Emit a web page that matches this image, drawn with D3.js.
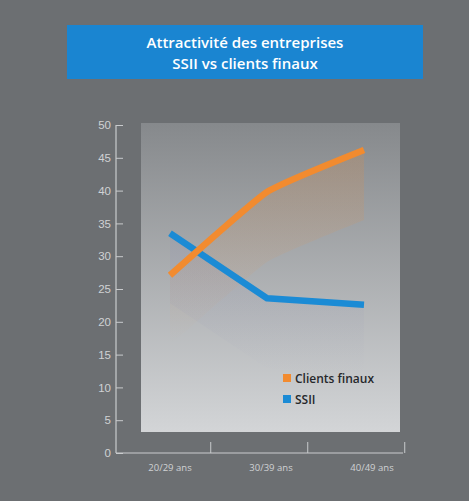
<!DOCTYPE html>
<html>
<head>
<meta charset="utf-8">
<script src="https://cdn.jsdelivr.net/npm/d3@7"></script>
<style>
  body { margin: 0; background: #6c6f72; }
  svg { display: block; font-family: "Open Sans", "Noto Sans", sans-serif; }
</style>
</head>
<body>
<div class="chart"></div>
<script>
// Data
const categories = ["20/29 ans", "30/39 ans", "40/49 ans"];
const clientsFinaux = [27.1, 39.8, 46.2];
const ssii = [33.5, 23.6, 22.6];
const yTicks = [0, 5, 10, 15, 20, 25, 30, 35, 40, 45, 50];
const titleLines = ["Attractivité des entreprises", "SSII vs clients finaux"];
const seriesNames = ["Clients finaux", "SSII"];

const width = 469;
const height = 501;
const orange = "#f28b2f";
const blue = "#1b8bd5";

const svg = d3.select(".chart")
    .append("svg")
    .attr("width", width)
    .attr("height", height);

svg.append("rect")
    .attr("width", width)
    .attr("height", height)
    .attr("fill", "#6c6f72");

const defs = svg.append("defs");
const bg = defs.append("linearGradient")
    .attr("id", "panel").attr("x1", 0).attr("y1", 0).attr("x2", 0).attr("y2", 1);
bg.append("stop").attr("offset", "0%").attr("stop-color", "#86898c");
bg.append("stop").attr("offset", "100%").attr("stop-color", "#d3d5d7");

// soft glow under each line
const glowO = defs.append("linearGradient")
    .attr("id", "glowO").attr("x1", 0).attr("y1", 0).attr("x2", 0).attr("y2", 1);
glowO.append("stop").attr("offset", "0%").attr("stop-color", orange).attr("stop-opacity", 0.18);
glowO.append("stop").attr("offset", "100%").attr("stop-color", orange).attr("stop-opacity", 0);
const glowB = defs.append("linearGradient")
    .attr("id", "glowB").attr("x1", 0).attr("y1", 0).attr("x2", 0).attr("y2", 1);
glowB.append("stop").attr("offset", "0%").attr("stop-color", "#8c8fb4").attr("stop-opacity", 0.18);
glowB.append("stop").attr("offset", "100%").attr("stop-color", "#8c8fb4").attr("stop-opacity", 0);

// Title box
svg.append("rect")
    .attr("x", 67).attr("y", 25)
    .attr("width", 356).attr("height", 54)
    .attr("fill", "#1a85d1");

svg.selectAll("text.title")
    .data(titleLines)
    .enter()
    .append("text")
    .attr("class", "title")
    .attr("x", 245)
    .attr("y", (d, i) => 48 + i * 21)
    .attr("text-anchor", "middle")
    .attr("fill", "#ffffff")
    .attr("font-size", 15)
    .attr("font-weight", 600)
    .text(d => d);

// Scales
const y = d3.scaleLinear().domain([0, 50]).range([453, 125]);
const x = d3.scalePoint().domain(categories).range([170, 364]);

// Plot panel
svg.append("rect")
    .attr("x", 141).attr("y", 123)
    .attr("width", 259).attr("height", 309)
    .attr("fill", "url(#panel)");

// Y axis
const yAxis = d3.axisRight(y)
    .tickValues(yTicks)
    .tickSize(7)
    .tickFormat(d3.format("d"));
const gy = svg.append("g")
    .attr("transform", "translate(116,0)")
    .call(yAxis);
gy.select(".domain").attr("stroke", "#c9cbcd").attr("stroke-width", 1.2)
    .attr("d", `M0,${y(50)}V${y(0)}`);
gy.selectAll(".tick line").attr("stroke", "#c9cbcd");
gy.selectAll(".tick text")
    .attr("x", -5)
    .attr("text-anchor", "end")
    .attr("fill", "#d0d2d4")
    .attr("font-size", 11.5);

// X axis
const gx = svg.append("g");
gx.append("line")
    .attr("x1", 116).attr("x2", 403)
    .attr("y1", y(0)).attr("y2", y(0))
    .attr("stroke", "#c9cbcd").attr("stroke-width", 1.2);
gx.selectAll("line.tick")
    .data(categories)
    .enter()
    .append("line")
    .attr("class", "tick")
    .attr("x1", d => x(d) + x.step() * 0.42)
    .attr("x2", d => x(d) + x.step() * 0.42)
    .attr("y1", y(0))
    .attr("y2", y(0) - 11)
    .attr("stroke", "#c9cbcd");
gx.selectAll("text")
    .data(categories)
    .enter()
    .append("text")
    .attr("x", (d, i) => x(d) + i * 4)
    .attr("y", y(0) + 18)
    .attr("text-anchor", "middle")
    .attr("fill", "#d0d2d4")
    .attr("font-size", 9.5)
    .text(d => d);

// Series (orange bends gently, blue is straight)
const series = [
    { name: seriesNames[0], values: clientsFinaux, color: orange, glow: "url(#glowO)", curve: d3.curveCardinal.tension(0.6) },
    { name: seriesNames[1], values: ssii, color: blue, glow: "url(#glowB)", curve: d3.curveLinear }
];

const area = d3.area()
    .x((d, i) => x(categories[i]))
    .y0((d, i) => y(d) + 70)
    .y1(d => y(d));

svg.selectAll("path.glow")
    .data(series)
    .enter()
    .append("path")
    .attr("class", "glow")
    .attr("d", d => area.curve(d.curve)(d.values))
    .attr("fill", d => d.glow);

// SSII drawn first so the orange line sits on top
svg.selectAll("path.series")
    .data(series.slice().reverse())
    .enter()
    .append("path")
    .attr("class", "series")
    .attr("d", d => d3.line()
        .x((v, i) => x(categories[i]))
        .y(v => y(v))
        .curve(d.curve)(d.values))
    .attr("fill", "none")
    .attr("stroke", d => d.color)
    .attr("stroke-width", 6.5)
    .attr("stroke-linejoin", "round")
    .attr("stroke-linecap", "butt");

// Legend
const legend = svg.selectAll("g.legend")
    .data(series)
    .enter()
    .append("g")
    .attr("class", "legend")
    .attr("transform", (d, i) => `translate(283,${374 + i * 21})`);
legend.append("rect")
    .attr("width", 8).attr("height", 8)
    .attr("fill", d => d.color);
legend.append("text")
    .attr("x", 12).attr("y", 8.5)
    .attr("fill", "#26282b")
    .attr("font-size", 12)
    .attr("font-weight", 600)
    .text(d => d.name);
</script>
</body>
</html>
